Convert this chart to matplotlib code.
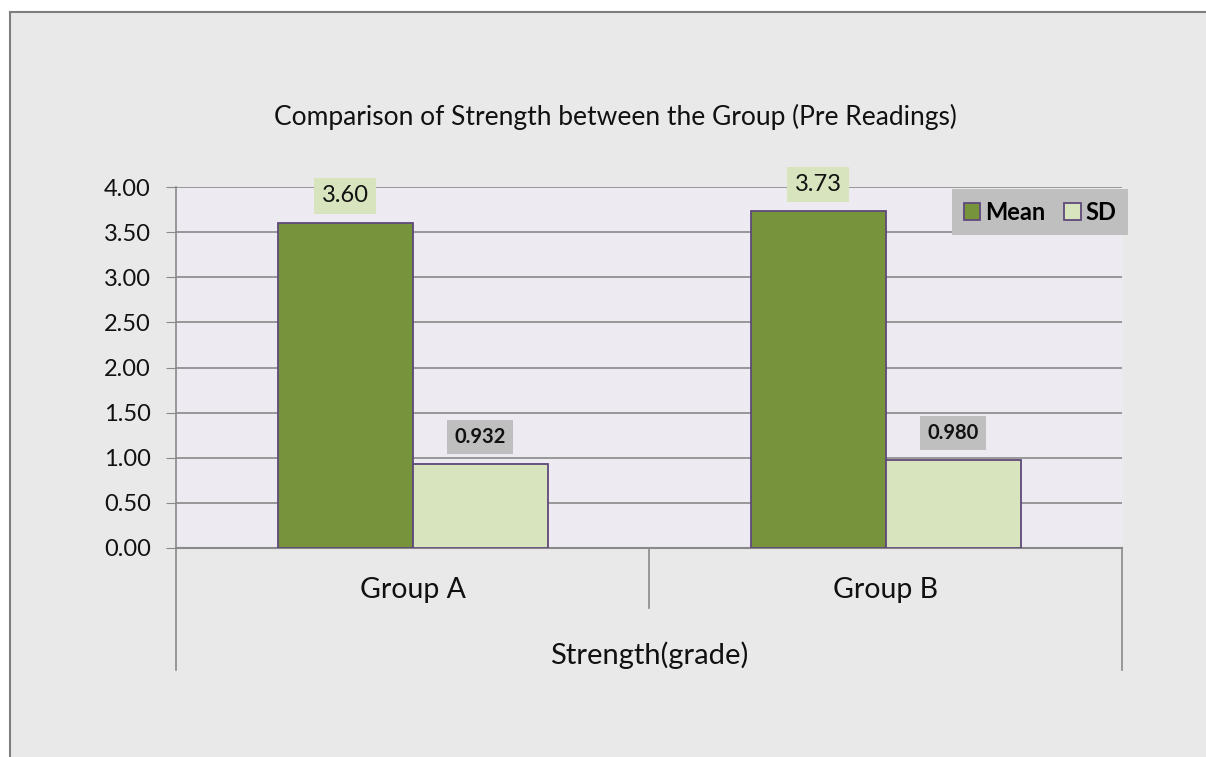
import matplotlib
matplotlib.use("Agg")
import matplotlib.pyplot as plt
from matplotlib.lines import Line2D
from matplotlib.patches import Rectangle, Patch
import numpy as np

categories = ["Group A", "Group B"]
mean_vals = [3.60, 3.73]
sd_vals = [0.932, 0.980]
mean_labels = ["3.60", "3.73"]
sd_labels = ["0.932", "0.980"]
yticks = [0.0, 0.5, 1.0, 1.5, 2.0, 2.5, 3.0, 3.5, 4.0]
title = "Comparison of Strength between the Group (Pre Readings)"
xlabel = "Strength(grade)"

plt.rcParams['font.family'] = ['Lato', 'DejaVu Sans']

W, H = 1206, 757
fig = plt.figure(figsize=(W / 100, H / 100), dpi=100)
fig.patch.set_facecolor("white")

def fx(px):
    return px / W

def fy(py):
    return 1 - py / H

# chart background area with border
bg = Rectangle((fx(10), 0), 1 - fx(10), fy(12), transform=fig.transFigure,
               facecolor="#e9e9e9", edgecolor="none", zorder=-10)
fig.add_artist(bg)
fig.add_artist(Line2D([fx(10), fx(10)], [0, fy(12)], color="#7f7f7f", lw=1.5, zorder=-9))
fig.add_artist(Line2D([fx(10), 1], [fy(12), fy(12)], color="#7f7f7f", lw=1.5, zorder=-9))

L, R, T, B = 176, 1122, 187, 548
ax = fig.add_axes([fx(L), fy(B), fx(R) - fx(L), fy(T) - fy(B)])
ax.set_facecolor("#edebf1")
ax.set_xlim(-0.5, 1.5)
ax.set_ylim(0, 4.0)
ax.set_yticks(yticks)
ax.set_yticklabels([f"{v:.2f}" for v in yticks], fontsize=17, color="#111111")
ax.tick_params(axis="y", length=7, color="#898989", pad=11)
ax.tick_params(axis="x", length=0, labelbottom=False)
ax.grid(axis="y", color="#898989", lw=1.2)
ax.set_axisbelow(True)
for s in ["top", "right"]:
    ax.spines[s].set_visible(False)
ax.spines["left"].set_color("#898989")
ax.spines["bottom"].set_color("#898989")
ax.spines["left"].set_linewidth(1.2)
ax.spines["bottom"].set_linewidth(1.5)

x = np.arange(len(categories))
w = 135 / 473
ax.bar(x - w / 2, mean_vals, w, color="#77933c", edgecolor="#5f497a", lw=1.3, label="Mean", zorder=3)
ax.bar(x + w / 2, sd_vals, w, color="#d7e4bd", edgecolor="#5f497a", lw=1.3, label="SD", zorder=3)

for xi, v, lab in zip(x, mean_vals, mean_labels):
    ax.annotate(lab, (xi - w / 2, v), xytext=(0, 12), textcoords="offset points",
                ha="center", va="bottom", fontsize=17, color="#111111",
                bbox=dict(boxstyle="square,pad=0.3", fc="#d7e4bd", ec="none"), zorder=5,
                annotation_clip=False)
for xi, v, lab in zip(x, sd_vals, sd_labels):
    ax.annotate(lab, (xi + w / 2, v), xytext=(0, 12), textcoords="offset points",
                ha="center", va="bottom", fontsize=14.5, fontweight="bold", color="#111111",
                bbox=dict(boxstyle="square,pad=0.35", fc="#bfbfbf", ec="none"), zorder=5)

# category axis area
mid = (L + R) / 2
fig.add_artist(Line2D([fx(L), fx(L)], [fy(B), fy(670)], color="#898989", lw=1.2))
fig.add_artist(Line2D([fx(R), fx(R)], [fy(B), fy(670)], color="#898989", lw=1.2))
fig.add_artist(Line2D([fx(mid), fx(mid)], [fy(B), fy(608)], color="#898989", lw=1.2))
for xi, c in zip(x, categories):
    px = L + (xi + 0.5) / 2 * (R - L)
    fig.text(fx(px), fy(590), c, ha="center", va="center", fontsize=20.5, color="#111111")
fig.text(fx(mid), fy(655), xlabel, ha="center", va="center", fontsize=21, color="#111111")

fig.text(fx(615), fy(117), title, ha="center", va="center", fontsize=19, color="#111111")

# legend
handles = [Patch(facecolor="#77933c", edgecolor="#5f497a", lw=1.3),
           Patch(facecolor="#d7e4bd", edgecolor="#5f497a", lw=1.3)]
leg = fig.legend(handles, ["Mean", "SD"], loc="center", bbox_to_anchor=(fx(1040), fy(212)),
                 ncol=2, frameon=True, fancybox=False, framealpha=1, facecolor="#bfbfbf",
                 edgecolor="none", prop=dict(size=17, weight="bold"), handlelength=0.7,
                 handleheight=0.7, handletextpad=0.2, columnspacing=0.8, borderpad=0.5)

fig.savefig("out.png", dpi=100, facecolor=fig.get_facecolor())
